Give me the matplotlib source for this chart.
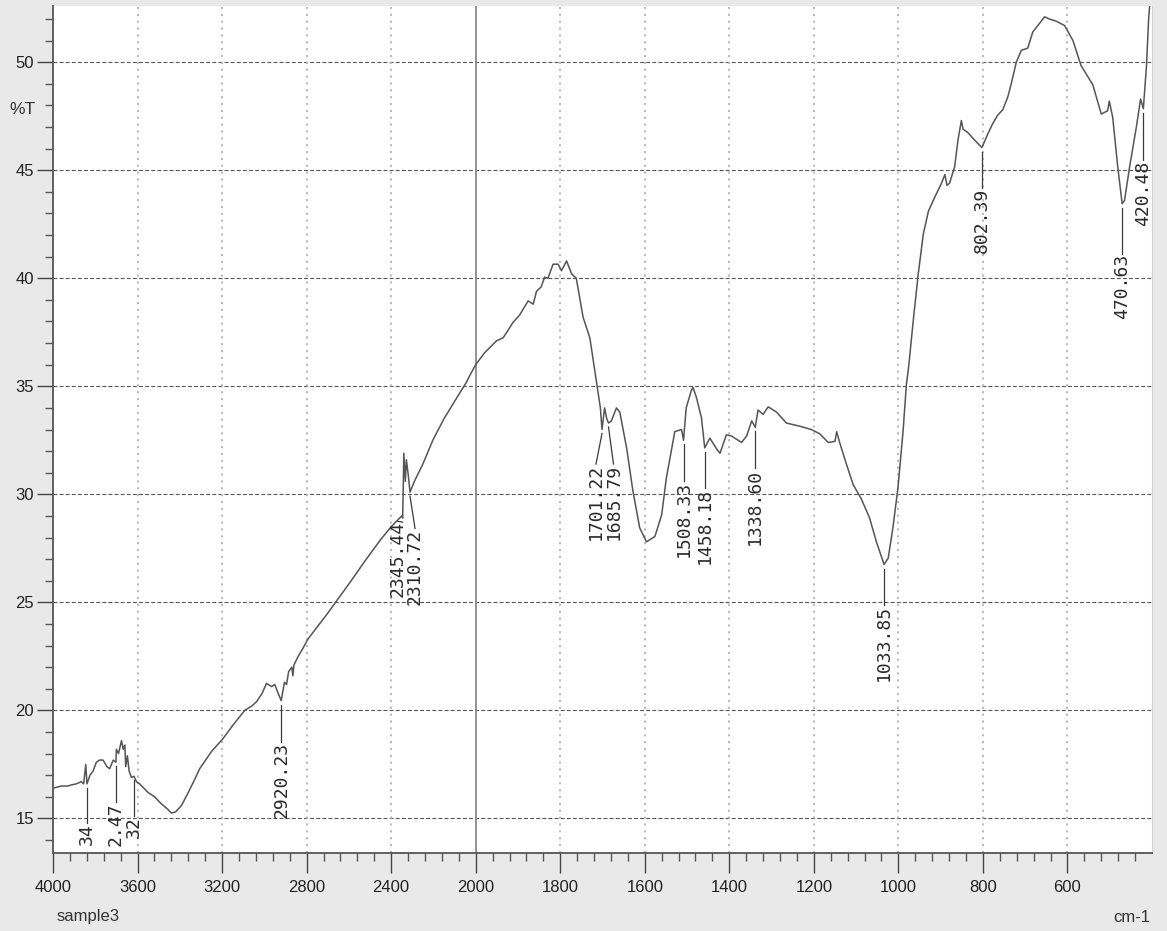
import numpy as np
import matplotlib
matplotlib.use("Agg")
import matplotlib.pyplot as plt
from matplotlib.ticker import FixedLocator, FixedFormatter

# ---------------- data ----------------
wavenumber = [
    4000, 3960, 3930, 3913, 3890, 3866, 3855, 3845, 3839.34, 3825, 3810, 3795,
    3780, 3763, 3745, 3732, 3715, 3702.47, 3700, 3690, 3676, 3668, 3660, 3656,
    3648, 3640, 3629.32, 3617, 3605, 3590, 3570, 3550, 3519, 3490, 3460, 3440,
    3420, 3392, 3360, 3330, 3306, 3250, 3195, 3150, 3093, 3060, 3037, 3010,
    2990, 2965, 2951, 2935, 2920.23, 2905, 2895, 2885, 2870, 2865, 2860, 2840,
    2810, 2794, 2700, 2667, 2600, 2525, 2450, 2400, 2370, 2350, 2345.44, 2340,
    2333, 2328, 2318, 2310.72, 2290, 2250, 2203, 2150, 2100, 2043, 2028, 2000,
    1979, 1951, 1935, 1923, 1912, 1896, 1876, 1864, 1856, 1845, 1837, 1829,
    1817, 1805, 1797, 1785, 1773, 1762, 1746, 1730, 1714, 1705, 1701.22, 1695,
    1690, 1685.79, 1679, 1667, 1659, 1643, 1628, 1612, 1596, 1576, 1560, 1549,
    1529, 1513, 1508.33, 1502, 1490, 1486, 1478, 1466, 1458.18, 1446, 1430,
    1422, 1407, 1395, 1371, 1359, 1347, 1338.60, 1332, 1320, 1308, 1288, 1265,
    1233, 1206, 1186, 1166, 1150, 1146, 1139, 1123, 1107, 1088, 1068, 1052,
    1033.85, 1024, 1013, 1001, 989, 981, 976, 964, 953, 941, 929, 914, 898,
    890, 885, 879, 867, 859, 851, 847, 836, 820, 802.39, 788, 777, 765, 753,
    741, 733, 721, 709, 694, 682, 670, 654, 643, 627, 607, 587, 568, 540, 520,
    505, 501, 493, 481, 470.63, 465, 453, 437, 427, 420.48, 413, 408, 404, 400,
]
transmittance = [
    16.4, 16.5, 16.5, 16.55, 16.6, 16.7, 16.6, 17.5, 16.6, 17.0, 17.2, 17.6,
    17.7, 17.7, 17.4, 17.3, 17.7, 17.6, 18.2, 18.0, 18.6, 18.2, 18.4, 17.4,
    17.9, 17.2, 16.9, 16.95, 16.7, 16.6, 16.4, 16.2, 16.0, 15.7, 15.45, 15.25,
    15.3, 15.6, 16.2, 16.8, 17.3, 18.1, 18.7, 19.3, 20.0, 20.2, 20.4, 20.8,
    21.25, 21.1, 21.2, 20.8, 20.45, 21.3, 21.2, 21.8, 22.0, 21.6, 22.1, 22.5,
    23.0, 23.3, 24.5, 24.95, 25.85, 26.9, 27.9, 28.5, 28.8, 29.0, 28.9, 31.9,
    30.6, 31.6, 30.8, 30.1, 30.6, 31.4, 32.5, 33.5, 34.3, 35.2, 35.5, 36.0,
    36.55, 37.1, 37.25, 37.6, 37.95, 38.3, 38.95, 38.8, 39.4, 39.6, 40.05, 40.0,
    40.65, 40.65, 40.35, 40.8, 40.2, 40.0, 38.2, 37.25, 35.15, 34.0, 33.0, 34.0,
    33.5, 33.3, 33.4, 34.0, 33.8, 32.15, 30.15, 28.45, 27.8, 28.05, 29.05, 30.75,
    32.9, 33.0, 32.5, 34.0, 34.8, 34.95, 34.5, 33.55, 32.15, 32.6, 32.1,
    31.9, 32.75, 32.7, 32.4, 32.7, 33.4, 33.1, 33.9, 33.7, 34.05, 33.8, 33.3,
    33.15, 33.0, 32.8, 32.4, 32.45, 32.9, 32.4, 31.4, 30.45, 29.8, 28.9, 27.8,
    26.75, 27.05, 28.45, 30.3, 32.9, 35.1, 35.85, 38.2, 40.2, 42.05, 43.1, 43.75, 44.4,
    44.8, 44.3, 44.4, 45.15, 46.4, 47.3, 46.9, 46.75, 46.4, 46.05, 46.7, 47.15, 47.55, 47.8,
    48.4, 49.0, 50.0, 50.55, 50.65, 51.4, 51.7, 52.1, 52.0, 51.9, 51.7, 51.0, 49.85, 48.95, 47.6,
    47.75, 48.2, 47.45, 45.15, 43.45, 43.6, 45.15, 47.0, 48.3, 47.85, 49.85, 52.0, 53.0, 54.0,
]

# peak labels (the three leftmost are cut off by the axis frame in the original)
peak_wn = [3839.34, 3702.47, 3617.32, 2920.23, 2345.44, 2310.72, 1701.22, 1685.79,
           1508.33, 1458.18, 1338.60, 1033.85, 802.39, 470.63, 420.48]
peak_text = ["34", "2.47", "32", "2920.23", "2345.44", "2310.72",
             "1701.22", "1685.79", "1508.33", "1458.18", "1338.60", "1033.85",
             "802.39", "470.63", "420.48"]

x_major = [4000, 3600, 3200, 2800, 2400, 2000, 1800, 1600, 1400, 1200, 1000, 800, 600]
y_major = [15, 20, 25, 30, 35, 40, 45, 50]

# ---------------- layout (label placement) ----------------
label_top = [14.78, 15.75, 15.1, 18.54, 28.75, 28.42, 31.4, 31.4, 30.6, 30.28,
             31.2, 24.9, 44.2, 41.14, 45.45]
label_dx = [0, 0, 0, 0, -5, 5, -6, 5, 0, 0, 0, 0, 0, 0, 0]

W, H, DPI = 1167, 931, 100
BG = "#e9e9e9"
fig = plt.figure(figsize=(W / DPI, H / DPI), dpi=DPI, facecolor=BG)
ax = fig.add_axes([53 / W, (H - 853) / H, (1152 - 53) / W, (853 - 6) / H])
ax.set_facecolor("white")


def fwd(x):
    x = np.asarray(x, dtype=float)
    return np.where(x > 2000, 2000 + (x - 2000) / 2.0, x)


def inv(u):
    u = np.asarray(u, dtype=float)
    return np.where(u > 2000, 2000 + (u - 2000) * 2.0, u)


ax.set_xscale("function", functions=(fwd, inv))
ax.set_xlim(4000, 400)
ax.set_ylim(13.4, 52.6)

# grid
for yv in y_major:
    ax.axhline(yv, color="#555555", lw=0.8, dashes=(3.5, 2.0), zorder=1)
for xv in x_major[1:]:
    if xv == 2000:
        ax.axvline(xv, color="#8a8a8a", lw=1.3, zorder=1)
    else:
        ax.axvline(xv, color="#b4b4b4", lw=1.3, dashes=(1.2, 2.6), zorder=1)

# spectrum
ax.plot(wavenumber, transmittance, color="#555555", lw=1.1, zorder=3, clip_on=True)

# peak labels
lab_font = dict(family=["DejaVu Sans Mono", "DejaVu Sans"], size=13, color="#2a2a2a")
ppu = 847 / (52.6 - 13.4)  # pixels per %T unit
fig.canvas.draw()
for wn, txt, top, dx in zip(peak_wn, peak_text, label_top, label_dx):
    yc = float(np.interp(wn, wavenumber[::-1], transmittance[::-1]))
    y0 = yc - 4.0 / ppu
    px, py = ax.transData.transform((wn, top))
    xt = ax.transData.inverted().transform((px + dx, py))[0]
    ax.plot([wn, xt], [y0, top], color="#3a3a3a", lw=0.9, zorder=4, clip_on=True)
    ax.text(xt, top, txt, rotation=90, ha="center", va="top", clip_on=True,
            zorder=4, **lab_font)

# ticks
tick_font = ["Liberation Sans", "DejaVu Sans"]
ax.xaxis.set_major_locator(FixedLocator(x_major))
ax.xaxis.set_major_formatter(FixedFormatter([str(v) for v in x_major]))
x_minor = [v for v in list(range(4000, 2000, -80)) + list(range(2000, 400, -40))
           if v not in x_major]
ax.xaxis.set_minor_locator(FixedLocator(x_minor))
ax.yaxis.set_major_locator(FixedLocator(y_major))
ax.yaxis.set_major_formatter(FixedFormatter([str(v) for v in y_major]))
ax.yaxis.set_minor_locator(FixedLocator([v for v in range(14, 53) if v not in y_major]))

ax.tick_params(axis="x", which="major", length=14.5, width=1.0, color="#444444",
               pad=5, labelsize=12, labelcolor="#222222")
ax.tick_params(axis="x", which="minor", length=6, width=1.0, color="#555555")
ax.tick_params(axis="y", which="major", length=11.5, width=1.0, color="#444444",
               pad=2, labelsize=12, labelcolor="#222222")
ax.tick_params(axis="y", which="minor", length=6, width=1.0, color="#555555")
for lab in ax.get_xticklabels() + ax.get_yticklabels():
    lab.set_family(tick_font)

for side in ("left", "bottom"):
    ax.spines[side].set_color("#555555")
    ax.spines[side].set_linewidth(1.3)
ax.spines["top"].set_visible(False)
ax.spines["right"].set_color("#cfcfcf")

# annotations outside axes
fig.text(22 / W, 1 - 110 / H, "%T", ha="center", va="center", fontsize=12.5,
         family=tick_font, color="#333333")
fig.text(57 / W, 1 - 917 / H, "sample3", ha="left", va="center", fontsize=12,
         family=tick_font, color="#333333")
fig.text(1150 / W, 1 - 917 / H, "cm-1", ha="right", va="center", fontsize=12,
         family=tick_font, color="#333333")

fig.savefig("out.png", dpi=DPI, facecolor=BG)
